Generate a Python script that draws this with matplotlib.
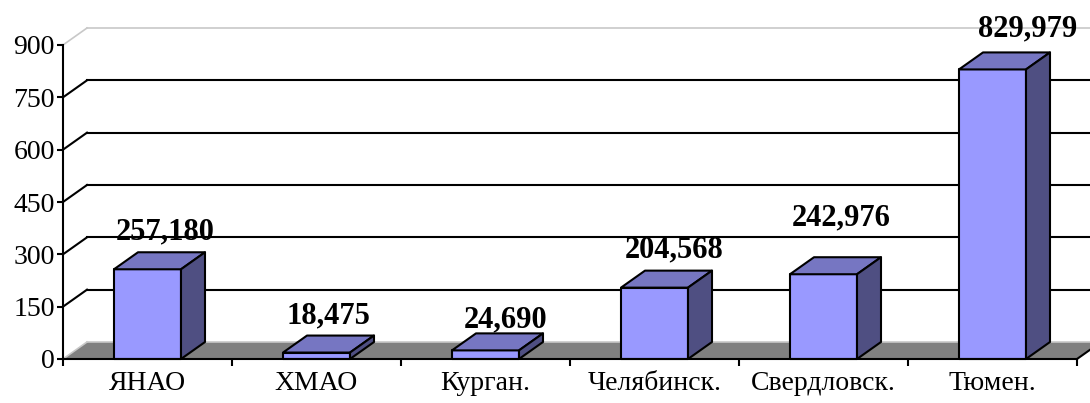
import numpy as np
import matplotlib
matplotlib.use("Agg")
import matplotlib.pyplot as plt
from matplotlib.patches import Polygon

plt.rcParams['font.family'] = ['Liberation Serif', 'DejaVu Serif']

# данные
regions = ['ЯНАО', 'ХМАО', 'Курган.', 'Челябинск.', 'Свердловск.', 'Тюмен.']
values = [257.180, 18.475, 24.690, 204.568, 242.976, 829.979]
labels = ['257,180', '18,475', '24,690', '204,568', '242,976', '829,979']
yticks = [0, 150, 300, 450, 600, 750, 900]

# сдвиг подписей (пиксели, до базовой линии текста) - как в исходной картинке
lab_dx = [18, 12, 20, 20, 18, 35]
lab_dy = [13, 12, 6, 13, 32, 16]

W, H = 1090, 403
fig = plt.figure(figsize=(W / 100, H / 100), dpi=100)
ax = fig.add_axes([63 / W, 44 / H, 1014 / W, 314 / H])
ax.patch.set_visible(False)

n = len(regions)
ax.set_xlim(0, n)
ax.set_ylim(0, 900)

# глубина "3D" в единицах данных
DX = 24 / 169
DY = 17 * 900 / 314
bar_w = 67 / 169

front = '#9999FF'
top_c = '#7676C2'
side_c = '#4F4F82'
grey_line = '#C8C8C8'

# задняя стенка
for v in yticks[1:-1]:
    ax.plot([DX, n + DX + 1], [v + DY, v + DY], color='black', lw=1.5, clip_on=False, zorder=1)
    ax.plot([0, DX], [v, v + DY], color='black', lw=1.5, clip_on=False, zorder=1)
ax.plot([DX, n + DX + 1], [900 + DY, 900 + DY], color=grey_line, lw=1.2, clip_on=False, zorder=1)
ax.plot([0, DX], [900, 900 + DY], color=grey_line, lw=1.2, clip_on=False, zorder=1)

# пол
floor = Polygon([(0, 0), (n, 0), (n + DX, DY), (DX, DY)], closed=True,
                facecolor='#808080', edgecolor='none', clip_on=False, zorder=2)
ax.add_patch(floor)
ax.plot([DX, n + DX], [DY, DY], color=grey_line, lw=1.2, clip_on=False, zorder=2)
ax.plot([0, DX], [0, DY], color=grey_line, lw=1.2, clip_on=False, zorder=2)
ax.plot([n, n + DX], [0, DY], color='black', lw=1.5, clip_on=False, zorder=2)

# столбцы
for i, v in enumerate(values):
    c = i + 0.5
    x0, x1 = c - bar_w / 2, c + bar_w / 2
    faces = [
        ([(x0, 0), (x1, 0), (x1, v), (x0, v)], front),
        ([(x0, v), (x1, v), (x1 + DX, v + DY), (x0 + DX, v + DY)], top_c),
        ([(x1, 0), (x1 + DX, DY), (x1 + DX, v + DY), (x1, v)], side_c),
    ]
    for pts, col in faces:
        ax.add_patch(Polygon(pts, closed=True, facecolor=col, edgecolor='black',
                             lw=1.5, joinstyle='round', clip_on=False, zorder=3))
    ax.annotate(labels[i], xy=(c, v + DY), xytext=(lab_dx[i] * 0.72, lab_dy[i] * 0.72),
                textcoords='offset points', ha='center', va='baseline',
                fontsize=22, fontweight='bold', zorder=5, annotation_clip=False)

# оси
for s in ['top', 'right']:
    ax.spines[s].set_visible(False)
for s in ['left', 'bottom']:
    ax.spines[s].set_linewidth(1.5)
    ax.spines[s].set_zorder(4)

ax.set_yticks(yticks)
ax.set_yticklabels([str(t) for t in yticks])
ax.tick_params(axis='y', direction='out', length=4, width=1.5, pad=2, labelsize=20)

ax.set_xticks(np.arange(n) + 0.5)
ax.set_xticklabels(regions)
ax.set_xticks(np.arange(n + 1), minor=True)
ax.tick_params(axis='x', which='major', length=0, pad=9, labelsize=20)
ax.tick_params(axis='x', which='minor', direction='out', length=5, width=1.5)

fig.savefig('out.png', dpi=100)
